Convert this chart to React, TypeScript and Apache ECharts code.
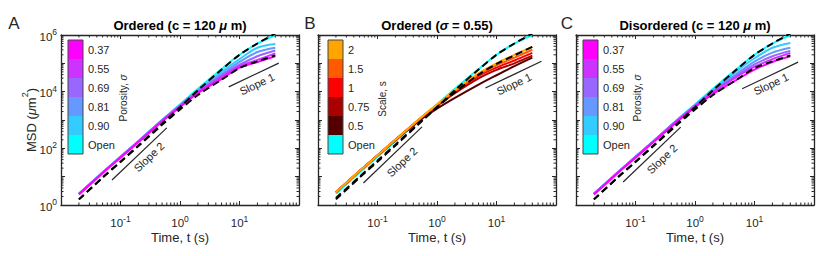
import React, { useEffect, useRef } from 'react';
import * as echarts from 'echarts';

const FONT = '"Liberation Sans", Arial, Helvetica, sans-serif';
const INK = '#262626';

// time points (s)
const times = [0.02, 0.05, 0.1, 0.2, 0.5, 1, 2, 5, 10, 20, 40];

// Panel A: Ordered (c = 120 um), MSD in um^2
const aOpen = [2.5, 14.1, 50, 178, 1000, 3550, 12600, 63100, 200000, 501000, 1000000];
const a090 = [2.5, 14.1, 50, 178, 1000, 3390, 11200, 50100, 141000, 355000, 479000];
const a081 = [2.5, 14.1, 50, 178, 1000, 3310, 10700, 41700, 112000, 251000, 355000];
const a069 = [2.5, 14.1, 50, 178, 955, 3160, 10000, 37200, 89100, 178000, 282000];
const a055 = [2.4, 13.5, 47.9, 170, 912, 3020, 9550, 33100, 79400, 132000, 224000];
const a037 = [2.34, 13.2, 46.8, 166, 891, 2880, 8910, 28200, 70800, 112000, 178000];
const aDashUpper = [1.58, 9.3, 33.9, 126, 741, 2820, 11200, 60300, 200000, 501000, 1120000];
const aDashLower = [1.58, 9.3, 33.1, 120, 676, 2340, 7590, 26300, 67600, 117000, 191000];

// Panel B: Ordered (sigma = 0.55), by scale s
const bOpen = [2.5, 14.1, 50, 178, 1000, 3550, 12600, 63100, 200000, 501000, 1000000];
const b2 = [2.8, 15.8, 56.2, 200, 1070, 3550, 11200, 44700, 100000, 200000, 380000];
const b15 = [2.8, 15.8, 56.2, 200, 1070, 3470, 10500, 39800, 85100, 158000, 302000];
const b1 = [2.8, 15.8, 56.2, 200, 1050, 3310, 10000, 35500, 70800, 126000, 234000];
const b075 = [2.8, 15.8, 56.2, 200, 1020, 3160, 8910, 29500, 58900, 100000, 186000];
const b05 = [2.8, 15.8, 56.2, 191, 933, 2510, 6030, 17800, 38000, 79400, 158000];
const bDashUpper = [1.58, 9.3, 33.9, 126, 741, 2820, 11200, 60300, 200000, 501000, 1120000];
const bDashLower = [1.78, 10, 37.2, 135, 794, 2820, 9550, 39800, 95500, 191000, 380000];

// Panel C: Disordered (c = 120 um)
const cOpen = [2.5, 14.1, 50, 178, 1000, 3550, 12600, 63100, 200000, 501000, 1000000];
const c090 = [2.5, 14.1, 50, 178, 1000, 3390, 11200, 52500, 151000, 355000, 525000];
const c081 = [2.5, 14.1, 50, 178, 1000, 3310, 10700, 42700, 115000, 240000, 355000];
const c069 = [2.5, 14.1, 50, 178, 955, 3160, 10000, 37200, 91200, 178000, 275000];
const c055 = [2.4, 13.5, 47.9, 170, 912, 3020, 9330, 33100, 75900, 141000, 234000];
const c037 = [2.34, 13.2, 46.8, 166, 871, 2820, 8320, 26300, 60300, 112000, 178000];
const cDashUpper = [1.58, 9.3, 33.9, 126, 741, 2820, 11200, 60300, 200000, 501000, 1120000];
const cDashLower = [1.58, 9.3, 33.1, 120, 676, 2340, 7590, 26300, 67600, 117000, 191000];

// slope reference segments [t, MSD]
const slopeA2 = [[0.072, 7.6], [0.6, 525]];
const slopeA1 = [[6.6, 14800], [45.7, 102000]];
const slopeB2 = [[0.058, 6.0], [0.56, 575]];
const slopeB1 = [[6.5, 13500], [57, 118000]];
const slopeC2 = [[0.062, 6.5], [0.575, 560]];
const slopeC1 = [[6.2, 12600], [54, 110000]];

const porosityLabels = ['0.37', '0.55', '0.69', '0.81', '0.90', 'Open'];
const porosityColors = ['#FF00FF', '#CC33FF', '#9966FF', '#6699FF', '#33CCFF', '#00FFFF'];
const scaleLabels = ['2', '1.5', '1', '0.75', '0.5', 'Open'];
const scaleColors = ['#FFA500', '#FF5A00', '#FF0000', '#AA0000', '#550000', '#00FFFF'];

const xMajorShown = [-1, 0, 1];
const yMajorShown = [0, 2, 4, 6];
const minorMult = [2, 3, 4, 5, 6, 7, 8, 9];
const xDecades = [0.01, 0.1, 1, 10];
const yDecades = [1, 10, 100, 1000, 10000, 100000];

const grids = [
  { left: 61, top: 35, width: 238, height: 170 },
  { left: 318, top: 35, width: 238, height: 170 },
  { left: 576, top: 35, width: 238, height: 170 },
];

const supRich = {
  b: { fontSize: 11.5, fontFamily: FONT, color: INK, lineHeight: 15, verticalAlign: 'bottom' },
  s: { fontSize: 8.5, fontFamily: FONT, color: INK, lineHeight: 15, verticalAlign: 'top' },
};

function toPts(vals: number[]) {
  return times.map((t, i) => [t, vals[i]]);
}

export default function App() {
  const ref = useRef<HTMLDivElement>(null);
  useEffect(() => {
    if (!ref.current) return;
    const chart = echarts.init(ref.current, null, { renderer: 'svg' });

    const xAxes: any[] = [];
    const yAxes: any[] = [];
    grids.forEach((_, gi) => {
      ['bottom', 'top'].forEach((pos) => {
        xAxes.push({
          gridIndex: gi,
          type: 'log',
          logBase: 10,
          min: 0.01,
          max: 100,
          splitNumber: 4,
          position: pos,
          axisLine: { show: true, onZero: false, lineStyle: { color: INK, width: 1.3 } },
          axisTick: { show: true, inside: true, length: 4, lineStyle: { color: INK, width: 1 } },
          splitLine: { show: false },
          axisLabel: {
            show: pos === 'bottom',
            margin: 9,
            formatter: (v: number) => {
              const e = Math.round(Math.log10(v));
              if (!xMajorShown.includes(e)) return '';
              return `{b|10}{s|${e}}`;
            },
            rich: supRich,
          },
        });
      });
      ['left', 'right'].forEach((pos) => {
        yAxes.push({
          gridIndex: gi,
          type: 'log',
          logBase: 10,
          min: 1,
          max: 1000000,
          splitNumber: 6,
          position: pos,
          axisLine: { show: true, onZero: false, lineStyle: { color: INK, width: 1.3 } },
          axisTick: { show: true, inside: true, length: 4, lineStyle: { color: INK, width: 1 } },
          splitLine: { show: false },
          axisLabel: {
            show: pos === 'left' && gi === 0,
            margin: 4,
            formatter: (v: number) => {
              const e = Math.round(Math.log10(v));
              if (!yMajorShown.includes(e)) return '';
              return `{b|10}{s|${e}}`;
            },
            rich: supRich,
          },
        });
      });
    });

    const series: any[] = [];
    const colored = (gi: number, name: string, vals: number[], color: string, z: number) => ({
      type: 'line',
      name,
      xAxisIndex: gi * 2,
      yAxisIndex: gi * 2,
      data: toPts(vals),
      symbol: 'none',
      showSymbol: false,
      smooth: 0.3,
      color,
      itemStyle: { color },
      lineStyle: { color, width: 2 },
      z,
      silent: true,
    });
    const dashed = (gi: number, vals: number[]) => ({
      type: 'line',
      xAxisIndex: gi * 2,
      yAxisIndex: gi * 2,
      data: toPts(vals),
      symbol: 'none',
      smooth: 0.3,
      lineStyle: { color: '#000', width: 2, type: [7, 4] },
      z: 10,
      silent: true,
    });
    const slope = (gi: number, pts: number[][]) => ({
      type: 'line',
      xAxisIndex: gi * 2,
      yAxisIndex: gi * 2,
      data: pts,
      symbol: 'none',
      lineStyle: { color: INK, width: 1.2 },
      z: 10,
      silent: true,
    });
    const minorTicks = (gi: number) => {
      const xm: number[] = [];
      xDecades.forEach((d) => minorMult.forEach((m) => xm.push(d * m)));
      const ym: number[] = [];
      yDecades.forEach((d) => minorMult.forEach((m) => ym.push(d * m)));
      return [
        {
          type: 'custom',
          xAxisIndex: gi * 2,
          yAxisIndex: gi * 2,
          silent: true,
          clip: false,
          z: 20,
          data: xm.map((v) => [v, 1]),
          renderItem: (_p: any, api: any) => {
            const v = api.value(0);
            const b = api.coord([v, 1]);
            const t = api.coord([v, 1000000]);
            const st = { stroke: INK, lineWidth: 1 };
            return {
              type: 'group',
              children: [
                { type: 'line', shape: { x1: b[0], y1: b[1], x2: b[0], y2: b[1] - 2.5 }, style: st },
                { type: 'line', shape: { x1: t[0], y1: t[1], x2: t[0], y2: t[1] + 2.5 }, style: st },
              ],
            };
          },
        },
        {
          type: 'custom',
          xAxisIndex: gi * 2,
          yAxisIndex: gi * 2,
          silent: true,
          clip: false,
          z: 20,
          data: ym.map((v) => [0.01, v]),
          renderItem: (_p: any, api: any) => {
            const v = api.value(1);
            const l = api.coord([0.01, v]);
            const r = api.coord([100, v]);
            const st = { stroke: INK, lineWidth: 1 };
            return {
              type: 'group',
              children: [
                { type: 'line', shape: { x1: l[0], y1: l[1], x2: l[0] + 2.5, y2: l[1] }, style: st },
                { type: 'line', shape: { x1: r[0], y1: r[1], x2: r[0] - 2.5, y2: r[1] }, style: st },
              ],
            };
          },
        },
      ];
    };

    // Panel A
    series.push(colored(0, 'Open', aOpen, porosityColors[5], 2));
    series.push(colored(0, '0.90', a090, porosityColors[4], 3));
    series.push(colored(0, '0.81', a081, porosityColors[3], 4));
    series.push(colored(0, '0.69', a069, porosityColors[2], 5));
    series.push(colored(0, '0.55', a055, porosityColors[1], 6));
    series.push(colored(0, '0.37', a037, porosityColors[0], 7));
    series.push(dashed(0, aDashUpper), dashed(0, aDashLower), slope(0, slopeA2), slope(0, slopeA1));
    series.push(...minorTicks(0));
    // Panel B
    series.push(colored(1, 'Open', bOpen, scaleColors[5], 2));
    series.push(colored(1, '0.5', b05, scaleColors[4], 3));
    series.push(colored(1, '0.75', b075, scaleColors[3], 4));
    series.push(colored(1, '1', b1, scaleColors[2], 5));
    series.push(colored(1, '1.5', b15, scaleColors[1], 6));
    series.push(colored(1, '2', b2, scaleColors[0], 7));
    series.push(dashed(1, bDashUpper), dashed(1, bDashLower), slope(1, slopeB2), slope(1, slopeB1));
    series.push(...minorTicks(1));
    // Panel C
    series.push(colored(2, 'Open', cOpen, porosityColors[5], 2));
    series.push(colored(2, '0.90', c090, porosityColors[4], 3));
    series.push(colored(2, '0.81', c081, porosityColors[3], 4));
    series.push(colored(2, '0.69', c069, porosityColors[2], 5));
    series.push(colored(2, '0.55', c055, porosityColors[1], 6));
    series.push(colored(2, '0.37', c037, porosityColors[0], 7));
    series.push(dashed(2, cDashUpper), dashed(2, cDashLower), slope(2, slopeC2), slope(2, slopeC1));
    series.push(...minorTicks(2));

    const legendBase = {
      orient: 'vertical',
      top: 40,
      padding: 0,
      itemWidth: 15,
      itemHeight: 19,
      itemGap: 0,
      icon: 'rect',
      selectedMode: false,
      itemStyle: { borderWidth: 0 },
      textStyle: { fontSize: 11, fontFamily: FONT, color: INK },
    };

    const txt = (text: string, x: number, y: number, size: number, extra: any = {}) => ({
      type: 'text',
      x,
      y,
      silent: true,
      z: 50,
      ...extra,
      style: {
        text,
        fontSize: size,
        fontFamily: FONT,
        fill: INK,
        align: 'center',
        verticalAlign: 'middle',
        ...(extra.style || {}),
      },
    });

    const rad = (d: number) => (d * Math.PI) / 180;
    const titleRich = {
      b: { fontSize: 13, fontWeight: 'bold', fontFamily: FONT, fill: '#000' },
      i: { fontSize: 13, fontWeight: 'bold', fontStyle: 'italic', fontFamily: FONT, fill: '#000' },
    };
    const labRich = {
      n: { fontSize: 10, fontFamily: FONT, fill: INK },
      i: { fontSize: 10, fontStyle: 'italic', fontFamily: FONT, fill: INK },
    };

    const graphic: any[] = [
      txt('A', 14, 23, 17),
      txt('B', 310, 23, 17),
      txt('C', 567, 23, 17),
      txt('{b|Ordered (c = 120 }{i|μ}{b| m)}', 180, 25, 13, { style: { rich: titleRich } }),
      txt('{b|Ordered (}{i|σ}{b| = 0.55)}', 437, 25, 13, { style: { rich: titleRich } }),
      txt('{b|Disordered (c = 120 }{i|μ}{b| m)}', 695, 25, 13, { style: { rich: titleRich } }),
      txt('Time, t (s)', 180, 237, 13),
      txt('Time, t (s)', 437, 237, 13),
      txt('Time, t (s)', 695, 237, 13),
      txt('{n|MSD (}{i|μ}{n|m}{s|2}{n|)}', 29, 120, 13, {
        rotation: Math.PI / 2,
        style: {
          rich: {
            n: { fontSize: 13, fontFamily: FONT, fill: INK, lineHeight: 18, verticalAlign: 'bottom' },
            i: { fontSize: 13, fontStyle: 'italic', fontFamily: FONT, fill: INK, lineHeight: 18, verticalAlign: 'bottom' },
            s: { fontSize: 9, fontFamily: FONT, fill: INK, lineHeight: 18, verticalAlign: 'top' },
          },
        },
      }),
      txt('{n|Porosity, }{i|σ}', 123, 98, 10, { rotation: Math.PI / 2, style: { rich: labRich } }),
      txt('Scale, s', 382, 99, 10, { rotation: Math.PI / 2 }),
      txt('{n|Porosity, }{i|σ}', 637, 98, 10, { rotation: Math.PI / 2, style: { rich: labRich } }),
      txt('Slope 2', 149, 157, 11, { rotation: rad(43.6) }),
      txt('Slope 1', 257, 84, 11, { rotation: rad(25.4) }),
      txt('Slope 2', 402, 162, 11, { rotation: rad(43.6) }),
      txt('Slope 1', 514, 84, 11, { rotation: rad(25.4) }),
      txt('Slope 2', 662, 159, 11, { rotation: rad(43.6) }),
      txt('Slope 1', 771, 84, 11, { rotation: rad(25.4) }),
      { type: 'rect', silent: true, z: 60, shape: { x: 68, y: 40, width: 15, height: 114 }, style: { fill: 'none', stroke: '#444', lineWidth: 1 } },
      { type: 'rect', silent: true, z: 60, shape: { x: 328, y: 40, width: 15, height: 114 }, style: { fill: 'none', stroke: '#444', lineWidth: 1 } },
      { type: 'rect', silent: true, z: 60, shape: { x: 583, y: 40, width: 15, height: 114 }, style: { fill: 'none', stroke: '#444', lineWidth: 1 } },
    ];

    chart.setOption({
      animation: false,
      backgroundColor: '#fff',
      grid: grids,
      xAxis: xAxes,
      yAxis: yAxes,
      legend: [
        { ...legendBase, left: 68, data: porosityLabels },
        { ...legendBase, left: 328, data: scaleLabels },
        { ...legendBase, left: 583, data: porosityLabels },
      ],
      series,
      graphic,
    });
    return () => chart.dispose();
  }, []);
  return (
    <div
      ref={ref}
      style={{ position: 'fixed', left: 0, top: 0, width: 830, height: 256, background: '#fff' }}
    />
  );
}
